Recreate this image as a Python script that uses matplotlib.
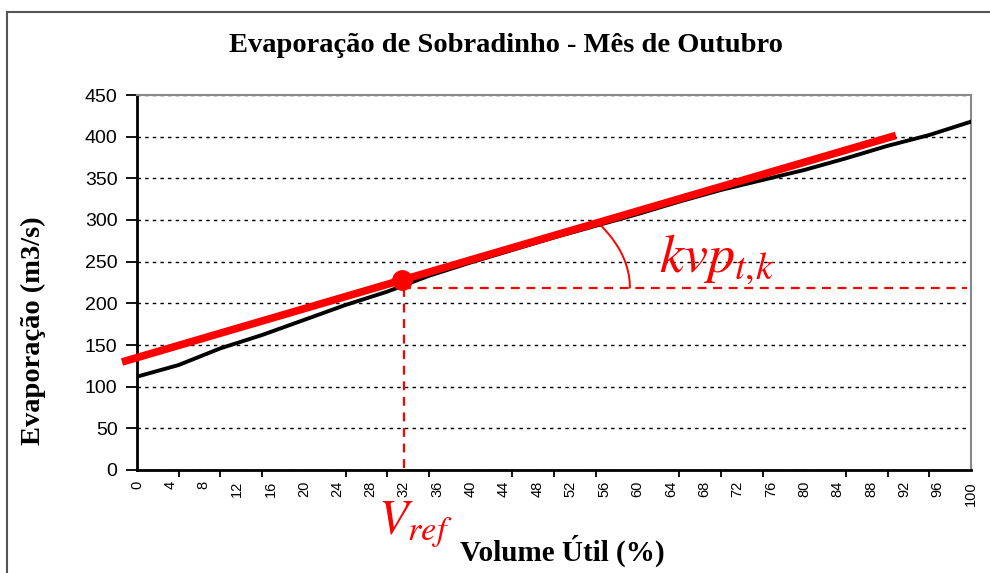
import numpy as np
import matplotlib
matplotlib.use("Agg")
import matplotlib.pyplot as plt
from matplotlib.patches import Rectangle

# dados (volume útil em %, evaporação em m3/s)
volume = [0, 5, 10, 15, 20, 25, 30, 35, 40, 45, 50,
          55, 60, 65, 70, 75, 80, 85, 90, 95, 100]
evaporacao = [112, 126, 146, 162, 180, 198, 214, 233, 249, 264, 279,
              293, 307, 322, 336, 348, 360, 374, 389, 402, 418]

# reta tangente (vermelha) e ponto de referência
reta_x = [-1.8, 91.0]
reta_y = [129.6, 401.5]
v_ref = 31.8
e_ref = 228
e_horiz = 219

x_labels = list(range(0, 101, 4))
x_ticks_marcas = list(range(0, 101, 5))
y_ticks = list(range(0, 451, 50))

plt.rcParams["mathtext.fontset"] = "stix"

fig = plt.figure(figsize=(9.9, 5.73), dpi=100)
ax = fig.add_axes([137 / 990, 1 - 470 / 573, (971 - 137) / 990, (470 - 95) / 573])

# moldura externa
fig.patches.append(Rectangle((7 / 990, -0.05), 1.2, 1 - 12 / 573 + 0.05,
                             transform=fig.transFigure, fill=False,
                             edgecolor="#555555", linewidth=1.5))

ax.plot(volume, evaporacao, color="black", linewidth=2.8, zorder=3)
ax.plot(reta_x, reta_y, color="red", linewidth=5.5, solid_capstyle="butt",
        clip_on=False, zorder=4)
ax.plot([v_ref], [e_ref], "o", color="red", markersize=14, zorder=5)

# linhas tracejadas de referência
ax.plot([v_ref, 99.5], [e_horiz, e_horiz], color="red", linestyle=(0, (4, 3)),
        linewidth=1.6, zorder=4)
ax.plot([v_ref + 0.2, v_ref + 0.2], [e_horiz, -4], color="red",
        linestyle=(0, (4, 3)), linewidth=1.6, clip_on=False, zorder=4)

# arco do ângulo
t = np.linspace(0, np.radians(29.7), 40)
ax.plot(v_ref + 27.3 * np.cos(t), e_horiz + 152 * np.sin(t), color="red",
        linewidth=1.4, zorder=4)

ax.text(62.6, 237, r"$kvp_{t,\!k}$", color="red", fontsize=39)
fig.text(378 / 990, 1 - 534 / 573, r"$V_{ref}$", color="red", fontsize=35)

ax.set_xlim(0, 100)
ax.set_ylim(0, 450)
ax.set_yticks(y_ticks)
ax.set_yticklabels([str(v) for v in y_ticks], fontsize=14,
                   fontfamily="Liberation Sans")
ax.set_xticks(x_labels)
ax.set_xticklabels([str(v) for v in x_labels], rotation=90, fontsize=10.5,
                   fontfamily="Liberation Sans")
ax.tick_params(axis="x", length=0, pad=8)
ax.set_xticks(x_ticks_marcas, minor=True)
ax.tick_params(axis="x", which="minor", length=5, width=1.3, color="black")
ax.tick_params(axis="y", length=8, width=1.3, pad=6)

ax.grid(axis="y", color="black", linestyle=(0, (2.5, 3)), linewidth=1.0)
ax.set_axisbelow(True)

for lado in ["left", "bottom"]:
    ax.spines[lado].set_linewidth(2)
    ax.spines[lado].set_color("black")
for lado in ["top", "right"]:
    ax.spines[lado].set_linewidth(1.5)
    ax.spines[lado].set_color("#888888")

fig.text(506 / 990, 1 - 46 / 573, "Evaporação de Sobradinho - Mês de Outubro",
         ha="center", va="center", fontsize=20.5, fontweight="bold",
         fontfamily="Liberation Serif")
fig.text(562 / 990, 1 - 551 / 573, "Volume Útil (%)", ha="center",
         va="center", fontsize=21, fontweight="bold",
         fontfamily="Liberation Serif")
fig.text(33 / 990, 1 - 331 / 573, "Evaporação (m3/s)", ha="center",
         va="center", rotation=90, fontsize=20.5, fontweight="bold",
         fontfamily="Liberation Serif")

fig.savefig("out.png", dpi=100)
